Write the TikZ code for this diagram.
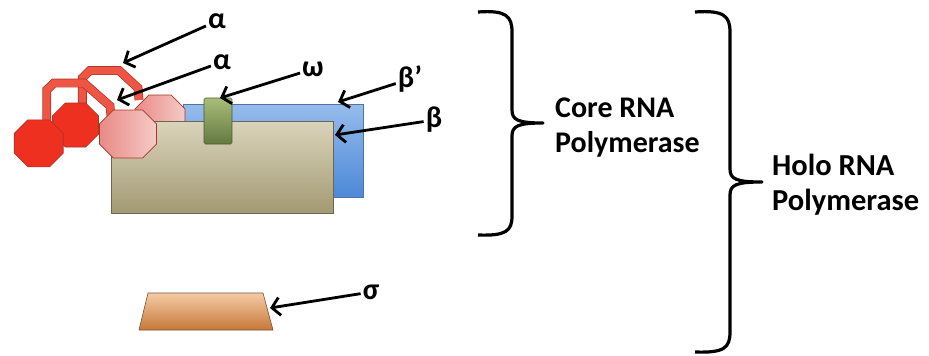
\documentclass[tikz,border=0pt]{standalone}
\usepackage{fontspec}
\setmainfont{Carlito}
\usepackage{xcolor}
\usepackage{tikz}
\usetikzlibrary{arrows.meta}
\definecolor{blauOben}{HTML}{96BCEC}
\definecolor{blauUnten}{HTML}{4C89D8}
\definecolor{blauRand}{HTML}{4F74A0}
\definecolor{sandOben}{HTML}{DAD4BB}
\definecolor{sandUnten}{HTML}{A39A73}
\definecolor{sandRand}{HTML}{6B6552}
\definecolor{gruenOben}{HTML}{A9BD7A}
\definecolor{gruenUnten}{HTML}{637A40}
\definecolor{gruenRand}{HTML}{4A5A30}
\definecolor{rotVoll}{HTML}{EE3020}
\definecolor{rotRand}{HTML}{A83424}
\definecolor{rosaL}{HTML}{E98A86}
\definecolor{rosaR}{HTML}{F5CBC6}
\definecolor{bogenRot}{HTML}{EE5545}
\definecolor{orangeOben}{HTML}{F5CBA6}
\definecolor{orangeUnten}{HTML}{C67838}
\definecolor{orangeRand}{HTML}{7A5030}
\newcommand{\Achteck}[6]{%
  \coordinate (#1) at (#2,#3);
  \draw[achteck,#6,shift={(#2,#3)}]
    ({-#4/2+0.29*#5},{-#5/2}) -- ({#4/2-0.29*#5},{-#5/2}) -- ({#4/2},{-#5/2+0.29*#5})
    -- ({#4/2},{#5/2-0.29*#5}) -- ({#4/2-0.29*#5},{#5/2}) -- ({-#4/2+0.29*#5},{#5/2})
    -- ({-#4/2},{#5/2-0.29*#5}) -- ({-#4/2},{-#5/2+0.29*#5}) -- cycle;
}
\newcommand{\Bogen}[1]{%
  \draw[bogen] #1;
}

\begin{document}
\begin{tikzpicture}[x=1pt,y=-1pt,
  achteck/.style={draw=rotRand,line width=0.6pt},
  kasten/.style={rectangle,line width=0.6pt,inner sep=0pt},
  bogen/.style={draw=rotRand,line width=0.7pt,double=bogenRot,
    double distance=7.5pt,line join=miter},
  beschr/.style={font=\fontsize{30}{35}\selectfont\bfseries,inner sep=2pt},
  ptr/.style={line width=2.8pt,-{Straight Barb[length=8pt,width=18pt]}},
  klammer/.style={line width=3.2pt,line join=round}]
  \useasboundingbox (0,0) rectangle (929,356);
  \node[kasten,draw=blauRand,top color=blauOben,bottom color=blauUnten,
    minimum width=180pt,minimum height=93pt] (bstrich) at (273,150.5) {};
  \Bogen{(82.3,108) -- (82.3,78) -- (90,70.5) -- (119,70.5) -- (138,88) -- (139,100)}
  \Achteck{rosaH}{160}{119}{50}{48}{left color=rosaL,right color=rosaR}
  \Achteck{rotM}{75.5}{125}{46}{44}{fill=rotVoll}
  \node[kasten,draw=sandRand,top color=sandOben,bottom color=sandUnten,
    minimum width=222pt,minimum height=92pt] (beta) at (222,167) {};
  \Bogen{(46.7,122) -- (46.7,90) -- (54,83) -- (84,83) -- (110,106) -- (111,116)}
  \Achteck{rotL}{38.7}{143.3}{49}{47}{fill=rotVoll}
  \Achteck{rosaV}{128}{134}{57}{48}{left color=rosaL,right color=rosaR}
  \node[kasten,draw=gruenRand,top color=gruenOben,bottom color=gruenUnten,
    rounded corners=1.5pt,minimum width=28pt,minimum height=46pt] (omega) at (218,121) {};
  \draw[draw=orangeRand,line width=0.6pt,top color=orangeOben,bottom color=orangeUnten]
    (139,330) -- (148,293) -- (263,293) -- (273,330) -- cycle;
  \node[beschr] (labA) at (217,21) {α};
  \node[beschr] (labB) at (222,62) {α};
  \node[beschr] (labW) at (313,69) {ω};
  \node[beschr] (labBs) at (410,79) {β’};
  \node[beschr] (labBe) at (434,120) {β};
  \node[beschr] (labS) at (371,292) {σ};
  \coordinate (zielA) at (123,63);
  \coordinate (zielB) at (117,100);
  \coordinate (zielW) at (220,98);
  \coordinate (zielBs) at (338,102);
  \coordinate (zielBe) at (335,135);
  \coordinate (zielS) at (270,308);
  \draw[ptr] (labA) -- (zielA);
  \draw[ptr] (labB) -- (zielB);
  \draw[ptr] (labW) -- (zielW);
  \draw[ptr] (labBs) -- (zielBs);
  \draw[ptr] (labBe) -- (zielBe);
  \draw[ptr] (labS) -- (zielS);
  \draw[klammer] (478,12) .. controls (506,10) and (512,16) .. (512,32) -- (512,110)
    .. controls (512,120) and (518,123) .. (543,123)
    .. controls (518,123) and (512,126) .. (512,136) -- (512,216)
    .. controls (512,231) and (506,236) .. (478,235);
  \draw[klammer] (695,12) .. controls (724,10) and (730,16) .. (730,32) -- (730,169)
    .. controls (730,179) and (736,182) .. (762,182)
    .. controls (736,182) and (730,185) .. (730,195) -- (730,332)
    .. controls (730,348) and (724,353) .. (695,352);
  \node[beschr,inner sep=0pt,align=left,anchor=west] (kern) at (555,127.5)
    {Core RNA\\Polymerase};
  \node[beschr,font=\fontsize{30.5}{35}\selectfont\bfseries,inner sep=0pt,
    align=left,anchor=west] (holo) at (772,185) {Holo RNA\\Polymerase};
\end{tikzpicture}
\end{document}
